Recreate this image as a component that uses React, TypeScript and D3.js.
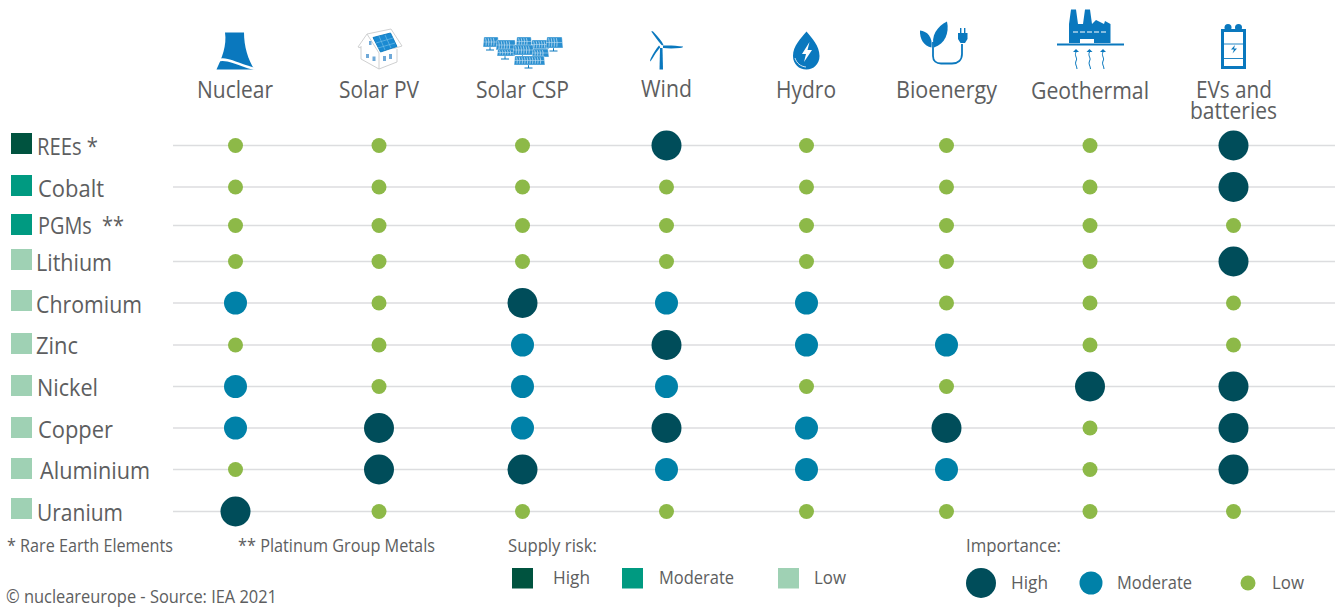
import React from "react";
import * as d3 from "d3";

const technologies = ["Nuclear", "Solar PV", "Solar CSP", "Wind", "Hydro", "Bioenergy", "Geothermal", "EVs and batteries"];
const minerals = ["REEs", "Cobalt", "PGMs", "Lithium", "Chromium", "Zinc", "Nickel", "Copper", "Aluminium", "Uranium"];
const supplyRisk = ["High", "Moderate", "Moderate", "Low", "Low", "Low", "Low", "Low", "Low", "Low"];
const reesImportance = ["Low", "Low", "Low", "High", "Low", "Low", "Low", "High"];
const cobaltImportance = ["Low", "Low", "Low", "Low", "Low", "Low", "Low", "High"];
const pgmsImportance = ["Low", "Low", "Low", "Low", "Low", "Low", "Low", "Low"];
const lithiumImportance = ["Low", "Low", "Low", "Low", "Low", "Low", "Low", "High"];
const chromiumImportance = ["Moderate", "Low", "High", "Moderate", "Moderate", "Low", "Low", "Low"];
const zincImportance = ["Low", "Low", "Moderate", "High", "Moderate", "Moderate", "Low", "Low"];
const nickelImportance = ["Moderate", "Low", "Moderate", "Moderate", "Low", "Low", "High", "High"];
const copperImportance = ["Moderate", "High", "Moderate", "High", "Moderate", "High", "Low", "High"];
const aluminiumImportance = ["Low", "High", "High", "Moderate", "Moderate", "Moderate", "Low", "High"];
const uraniumImportance = ["High", "Low", "Low", "Low", "Low", "Low", "Low", "Low"];
const importance = [reesImportance, cobaltImportance, pgmsImportance, lithiumImportance, chromiumImportance, zincImportance, nickelImportance, copperImportance, aluminiumImportance, uraniumImportance];
const levels = ["High", "Moderate", "Low"];

// layout (the source columns and rows are hand spaced)
const columnCentres = [235.5, 379, 522.5, 666.5, 806.5, 946.5, 1090, 1233.5];
const rowCentres = [145.5, 187, 225.5, 261.5, 303, 345, 386.5, 428, 469.5, 511.5];
const x = d3.scaleOrdinal<string, number>().domain(technologies).range(columnCentres);
const y = d3.scaleOrdinal<string, number>().domain(minerals).range(rowCentres);
const radius = d3.scaleOrdinal<string, number>().domain(levels).range([15, 11.5, 7.5]);
const dotColour = d3.scaleOrdinal<string, string>().domain(levels).range(["#004d5a", "#0081a8", "#8db948"]);
const riskColour = d3.scaleOrdinal<string, string>().domain(levels).range(["#00533f", "#009a81", "#9fd1b4"]);

const FONT = "'Open Sans', 'Noto Sans', sans-serif";
const INK = "#5d5e60";
const BLUE = "#0a78be";

const T = ({ x, y, w, s, children, fill = INK }: any) => (
  <text x={x} y={y} fontSize={s} fill={fill} fontFamily={FONT} textLength={w} lengthAdjust="spacingAndGlyphs" style={{ whiteSpace: "pre" }}>
    {children}
  </text>
);

const headerText = [
  { t: "Nuclear", x: 197, y: 98, w: 76 },
  { t: "Solar PV", x: 339, y: 98, w: 80 },
  { t: "Solar CSP", x: 476, y: 98, w: 93 },
  { t: "Wind", x: 641, y: 97, w: 51 },
  { t: "Hydro", x: 776, y: 98, w: 60 },
  { t: "Bioenergy", x: 896, y: 98, w: 101 },
  { t: "Geothermal", x: 1031, y: 99, w: 118 },
];
const rowText = [
  { t: "REEs *", x: 37, y: 154.6, w: 61, sq: 133 },
  { t: "Cobalt", x: 38, y: 196.6, w: 66, sq: 175 },
  { t: "PGMs  **", x: 38, y: 233.6, w: 86, sq: 214 },
  { t: "Lithium", x: 36, y: 270.6, w: 76, sq: 249 },
  { t: "Chromium", x: 36, y: 312.6, w: 106, sq: 290 },
  { t: "Zinc", x: 36, y: 353.6, w: 42, sq: 333 },
  { t: "Nickel", x: 37, y: 395.6, w: 61, sq: 375 },
  { t: "Copper", x: 38, y: 437.6, w: 75, sq: 417 },
  { t: "Aluminium", x: 40, y: 478.6, w: 110, sq: 458 },
  { t: "Uranium", x: 37, y: 520.6, w: 86, sq: 498 },
];

const Nuclear = () => (
  <g>
    <path d="M225 32.5 L244 32.5 C244 46 248 60 254.5 69.5 L216.5 69.5 C222 58 227 45 225 32.5Z" fill={BLUE} />
    <path d="M217 60.5 C228 57 238 65 255 69" fill="none" stroke="#fff" strokeWidth={2.6} />
  </g>
);

const SolarPV = () => (
  <g fill="none" stroke="#c9cbcc" strokeWidth={0.9}>
    <path d="M358 47 L367 34 L391 29 L402 46 L379 53 L358 47Z" fill="#fff" />
    <path d="M361 46 V59 L379 69 L397 62 V49" fill="#fff" />
    <path d="M379 53 V69 M367 34 L379 53" />
    <path d="M373 37.5 L390.5 33 L397 46.5 L380.5 52Z" fill="#1a8ad2" stroke="#0a78be" />
    <path d="M376 43 L393 38 M378 48 L395 43 M379 36 L385 50 M385 35 L391 48" stroke="#7cc2ea" strokeWidth={0.6} />
    <g fill="#6fa9d8" stroke="none">
      <rect x={369} y={41} width={2.5} height={4} />
      <rect x={366} y={54} width={3} height={4} />
      <rect x={372.5} y={56.5} width={3} height={4.5} />
      <rect x={383} y={56} width={3} height={5} />
      <rect x={389} y={54} width={3} height={5} />
    </g>
  </g>
);

const cspPanels = [
  [483, 37, 14, 10], [496, 40, 18, 10], [516, 37, 14, 9], [531, 40, 16, 9], [546, 37, 15, 11],
  [497, 49, 16, 7], [513, 45, 19, 10], [532, 49, 15, 8], [514, 56, 29, 9],
];
const SolarCSP = () => (
  <g>
    {cspPanels.map(([px, py, w, h], i) => (
      <g key={i}>
        <path d={`M${px + w / 2} ${py + h} v${i === 8 ? 3 : 3} m-4 0 h8`} stroke={BLUE} strokeWidth={1} fill="none" />
        <path d={`M${px + 1} ${py} h${w} l1 ${h} h${-w - 2}Z`} fill="#2a8fd0" stroke="#fff" strokeWidth={0.4} />
        <path d={d3.range(1, Math.floor(w / 2.6)).map((k) => `M${px + k * 2.6} ${py + 1.2} l0.7 ${h / 2 - 1.5} l-0.3 ${h / 2 - 1}`).join(" ")} stroke="#cfe6f6" strokeWidth={0.7} fill="none" />
        <path d={`M${px} ${py + h / 2} h${w + 1}`} stroke="#cfe6f6" strokeWidth={0.5} />
      </g>
    ))}
  </g>
);

const Wind = () => (
  <g fill={BLUE}>
    <path d="M660 48 L662.5 48 L663 69.5 L659.5 69.5Z" />
    <path d="M662 45.5 C657 40 654 35 651.3 31.5 C652 31 653 31 654 32.5 C658 37 662 41 663.5 45Z" />
    <path d="M663 45.6 C670 45.3 677 45.8 683 46.6 C683.2 47.2 682 48 680 48 C674 48.6 668 48.6 663 48Z" />
    <path d="M660.5 47 C656 52 653 58 650.5 61.5 C650 61 650 60 651 58 C653 54 656 49 659 45.5Z" />
    <circle cx={661.3} cy={46.6} r={1.4} fill="#fff" />
  </g>
);

const Hydro = () => (
  <g>
    <path d="M806.5 31.5 C812 38 819.5 46 819.5 56 C819.5 64 813.5 69.6 806.5 69.6 C799 69.6 793 64 793 56 C793 46 801 38 806.5 31.5Z" fill={BLUE} />
    <path d="M809.5 42 L802 54 L806 54 L804 62 L812 50 L807.5 50Z" fill="#fff" />
    <path d="M795 58 C796.5 63 800.5 66.5 806 67" fill="none" stroke="#fff" strokeWidth={0.8} />
  </g>
);

const Bioenergy = () => (
  <g>
    <path d="M931.5 47.5 C924 46 919.5 39 920 30.5 C927 31 933 37 931.5 47.5Z" fill={BLUE} />
    <path d="M934 47.5 C930.5 36 937 26.5 947 21.5 C949.5 33 945 44 934 47.5Z" fill={BLUE} />
    <path d="M933 42 V56 C933 61 936.5 63.5 941 63.5 H952 C958 63.5 962 60 962 54 V44" fill="none" stroke={BLUE} strokeWidth={1.8} />
    <path d="M958 33 h9.5 v6 l-2.5 4 h-4.5 l-2.5 -4Z M960 28 h1.4 v5 h-1.4Z M964 28 h1.4 v5 h-1.4Z" fill={BLUE} />
  </g>
);

const Geothermal = () => (
  <g>
    <path d="M1069 43 V24 L1071 9.5 H1076 L1078 24 H1083 L1085 9.5 H1090 L1092 24 L1096 20 L1104 24 L1105 21 L1110.5 24 V43 H1094 V39 H1080 V43Z" fill={BLUE} />
    <path d="M1073 32 H1108" stroke="#fff" strokeWidth={1} strokeDasharray="5 2" />
    <rect x={1057} y={43.5} width={67} height={2} fill={BLUE} />
    {[1076, 1089.5, 1103].map((gx) => (
      <g key={gx}>
        <path d={`M${gx} 52 c-2 4 2 6 0 9 c-1.5 3 1 5 1 8`} fill="none" stroke={BLUE} strokeWidth={1} />
        <path d={`M${gx - 3} 52 L${gx} 49 L${gx + 3} 52Z`} fill={BLUE} />
      </g>
    ))}
  </g>
);

const Battery = () => (
  <g>
    <circle cx={1228} cy={27.5} r={3.5} fill={BLUE} />
    <circle cx={1238.5} cy={27.5} r={3.5} fill={BLUE} />
    <rect x={1222.5} y={30.5} width={22} height={37} fill="#fff" stroke={BLUE} strokeWidth={3} />
    <path d="M1224 44 H1244 M1224 58.5 H1244" stroke={BLUE} strokeWidth={0.9} />
    <path d="M1235 45 L1231 49.5 H1234 L1232.5 53.5 L1237 48.5 H1234Z" fill={BLUE} />
  </g>
);

const riskLegend = [
  { l: "High", sx: 512, tx: 553, w: 37 },
  { l: "Moderate", sx: 622, tx: 659, w: 75 },
  { l: "Low", sx: 778, tx: 814, w: 32 },
];
const dotLegend = [
  { l: "High", cx: 981, tx: 1011, w: 37 },
  { l: "Moderate", cx: 1091, tx: 1117, w: 75 },
  { l: "Low", cx: 1248, tx: 1272, w: 32 },
];

export default function App() {
  return (
    <svg width={1338} height={611} viewBox="0 0 1338 611" style={{ position: "absolute", left: 0, top: 0, display: "block", background: "#fff" }}>
      <Nuclear />
      <SolarPV />
      <SolarCSP />
      <Wind />
      <Hydro />
      <Bioenergy />
      <Geothermal />
      <Battery />

      {headerText.map((h) => (
        <T key={h.t} x={h.x} y={h.y} w={h.w} s={23}>{h.t}</T>
      ))}
      <text fontSize={23} fill={INK} fontFamily={FONT}>
        <tspan x={1196} y={98} textLength={76} lengthAdjust="spacingAndGlyphs">EVs and</tspan>
        <tspan x={1190} y={119} textLength={87} lengthAdjust="spacingAndGlyphs">batteries</tspan>
      </text>

      {minerals.map((m, i) => (
        <g key={m}>
          <line x1={173} x2={1335} y1={y(m)} y2={y(m)} stroke="#dcdddf" strokeWidth={1.4} />
          <rect x={11} y={rowText[i].sq} width={21} height={21} fill={riskColour(supplyRisk[i])} />
          <T x={rowText[i].x} y={rowText[i].y} w={rowText[i].w} s={23}>{rowText[i].t}</T>
        </g>
      ))}

      {minerals.map((m, i) =>
        technologies.map((t, j) => (
          <circle key={m + t} cx={x(t)} cy={y(m)} r={radius(importance[i][j])} fill={dotColour(importance[i][j])} />
        ))
      )}

      <T x={7} y={552} w={166} s={17.5}>* Rare Earth Elements</T>
      <T x={238} y={552} w={197} s={17.5}>** Platinum Group Metals</T>
      <T x={6} y={603} w={271} s={17.5}>© nucleareurope - Source: IEA 2021</T>

      <T x={508} y={552} w={89} s={17.5}>Supply risk:</T>
      {riskLegend.map((d) => (
        <g key={d.l}>
          <rect x={d.sx} y={568} width={21} height={20.5} fill={riskColour(d.l)} />
          <T x={d.tx} y={584} w={d.w} s={17.5}>{d.l}</T>
        </g>
      ))}

      <T x={966} y={552} w={95} s={17.5}>Importance:</T>
      {dotLegend.map((d) => (
        <g key={d.l}>
          <circle cx={d.cx} cy={583} r={radius(d.l)} fill={dotColour(d.l)} />
          <T x={d.tx} y={589} w={d.w} s={17.5}>{d.l}</T>
        </g>
      ))}
    </svg>
  );
}
